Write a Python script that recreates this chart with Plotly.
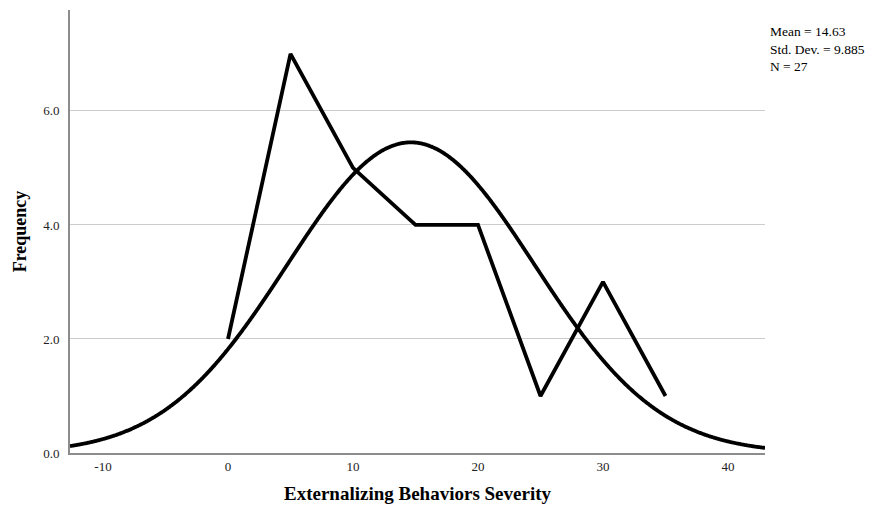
import numpy as np
import plotly.graph_objects as go

# Frequency polygon: bin midpoints and counts
bin_mid = [0, 5, 10, 15, 20, 25, 30, 35]
counts = [2, 7, 5, 4, 4, 1, 3, 1]

# Summary statistics
mean_val = 14.63
sd_val = 9.885
n_val = 27
bin_width = 5

x_range = [-12.64, 42.96]
y_range = [0, 7.77]
y_ticks = [0, 2, 4, 6]
x_ticks = [-10, 0, 10, 20, 30, 40]

# Normal curve scaled to the histogram counts
xs = np.linspace(x_range[0], x_range[1], 600)
ys = n_val * bin_width / (sd_val * np.sqrt(2 * np.pi)) * np.exp(-0.5 * ((xs - mean_val) / sd_val) ** 2)

serif = "Liberation Serif, Times New Roman, serif"

fig = go.Figure()
fig.add_trace(go.Scatter(x=xs, y=ys, mode="lines",
                         line=dict(color="black", width=3.8, simplify=False, shape="spline"),
                         hoverinfo="skip"))
fig.add_trace(go.Scatter(x=bin_mid, y=counts, mode="lines",
                         line=dict(color="black", width=3.8)))

fig.update_layout(
    width=871, height=509,
    margin=dict(l=70, r=106, t=10, b=56),
    paper_bgcolor="white", plot_bgcolor="white",
    showlegend=False,
    font=dict(family=serif, color="black"),
    xaxis=dict(range=x_range, tickvals=x_ticks, ticktext=[str(v) for v in x_ticks],
               automargin=False,
               showgrid=False, zeroline=False, showline=True, linecolor="#8c8c8c",
               linewidth=2, ticks="",
               tickfont=dict(size=13, family=serif, color="#222"),
               title=dict(text="<b>Externalizing Behaviors Severity</b>",
                          font=dict(size=19, family=serif), standoff=14)),
    yaxis=dict(range=y_range, tickvals=y_ticks, ticktext=[f"{v:.1f}" for v in y_ticks],
               automargin=False,
               showgrid=True, gridcolor="#cccccc", gridwidth=1, zeroline=False,
               showline=True, linecolor="#8c8c8c", linewidth=2, ticks="outside",
               ticklen=6, tickcolor="rgba(0,0,0,0)",
               tickfont=dict(size=13, family=serif, color="#222"),
               title=dict(text="<b>Frequency</b>", font=dict(size=18, family=serif), standoff=12)),
)

fig.add_annotation(
    xref="paper", yref="paper", x=1.005, y=0.974, xanchor="left", yanchor="top",
    text=f"Mean = {mean_val}<br>Std. Dev. = {sd_val}<br>N = {n_val}",
    showarrow=False, align="left",
    font=dict(size=13.5, family=serif, color="black"),
)

fig.write_html("out.html")
